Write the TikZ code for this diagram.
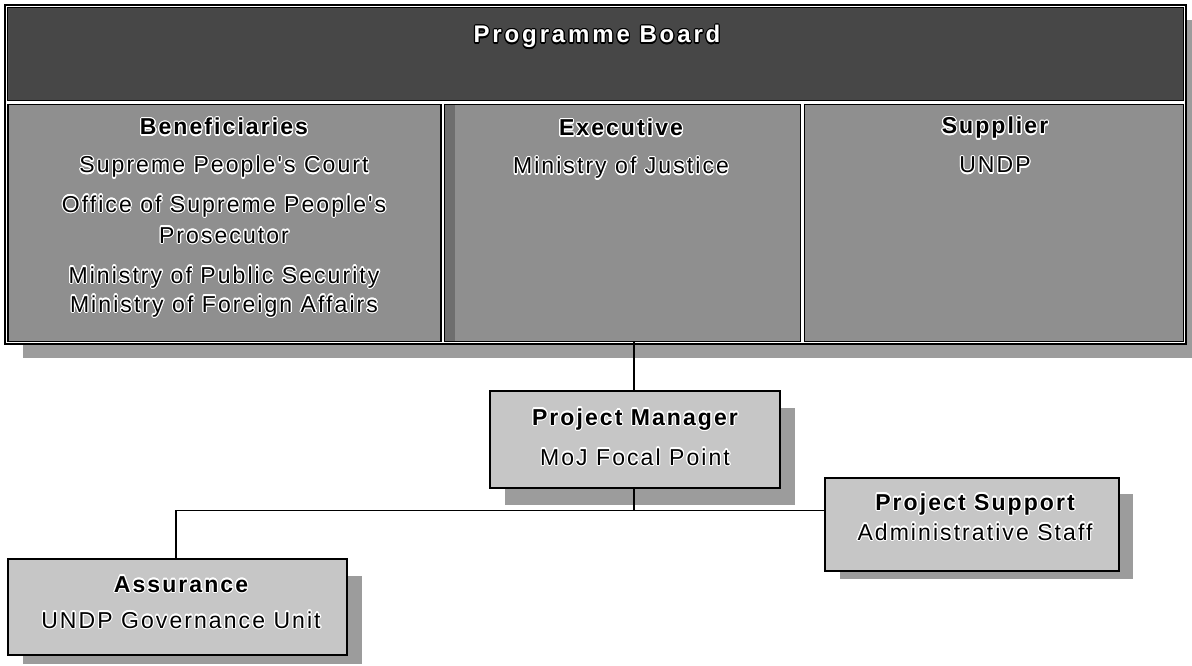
\documentclass[tikz,border=0pt]{standalone}
\usepackage{fontspec}
\setmainfont{Liberation Sans}
\newfontfamily\regf{Liberation Sans}[LetterSpace=9]
\newfontfamily\hdrf{Liberation Sans}[LetterSpace=12]
\usepackage[copies]{contour}
\contourlength{1.1pt}
\usetikzlibrary{calc}
\definecolor{hdrgray}{HTML}{474747}
\definecolor{colgray}{HTML}{8F8F8F}
\definecolor{litegray}{HTML}{C6C6C6}
\definecolor{shadgray}{HTML}{9C9C9C}
\definecolor{stripgray}{HTML}{6E6E6E}
\tikzset{
  boxframe/.style={draw=black, line width=1.1pt, rectangle, inner sep=0pt},
  outerframe/.style={draw=black, line width=1.4pt, rectangle, inner sep=0pt, fill=white},
  conn/.style={draw=black, line width=1.1pt},
  ttl/.style={anchor=base, inner sep=0pt, font=\regf\bfseries\fontsize{23}{27}\selectfont},
  txt/.style={anchor=base, inner sep=0pt, font=\regf\fontsize{23}{27}\selectfont},
  hdrtxt/.style={anchor=base, inner sep=0pt, font=\hdrf\bfseries\fontsize{24}{28}\selectfont},
}
\newcommand{\bk}[1]{\contour{white}{#1}}
\newcommand{\wt}[1]{\contour{black}{\textcolor{white}{#1}}}
\begin{document}
\begin{tikzpicture}[x=1pt,y=-1pt]
\useasboundingbox (0,0) rectangle (1192,666);
% ---- board shadow and frame
\fill[shadgray] (23,20) rectangle (1192,358);
\node[outerframe, minimum width=1181pt, minimum height=339pt] (board) at (595.5,174.5) {};
\node[boxframe, fill=hdrgray, minimum width=1176pt, minimum height=93pt] (hdr) at (595.5,54) {};
\node[boxframe, fill=colgray, minimum width=433pt, minimum height=237pt] (ben) at (224.5,223) {};
\node[boxframe, fill=colgray, minimum width=356pt, minimum height=237pt] (exe) at (622.5,223) {};
\node[boxframe, fill=colgray, minimum width=379pt, minimum height=237pt] (sup) at (994,223) {};
\fill[stripgray] ($(exe.north west)+(1,1)$) rectangle ($(exe.south west)+(11,-1)$);
% ---- texts in board
\node[hdrtxt] (thdr) at (597,43) {\wt{Programme Board}};
\node[ttl] (tben) at (224,135) {\bk{Beneficiaries}};
\node[txt] (b1) at (224,173) {\bk{Supreme People's Court}};
\node[txt] (b2) at (224,212) {\bk{Office of Supreme People's}};
\node[txt] (b3) at (224,243) {\bk{Prosecutor}};
\node[txt] (b4) at (224,283) {\bk{Ministry of Public Security}};
\node[txt] (b5) at (224,312) {\bk{Ministry of Foreign Affairs}};
\node[ttl] (texe) at (621,136) {\bk{Executive}};
\node[txt] (e1) at (621,174) {\bk{Ministry of Justice}};
\node[ttl] (tsup) at (995,134) {\bk{Supplier}};
\node[txt] (s1) at (995,173) {\bk{UNDP}};
% ---- lower boxes: shadows
\fill[shadgray] (505,408) rectangle (795,505);
\fill[shadgray] (840,494) rectangle (1133,579);
\fill[shadgray] (23,576) rectangle (362,664);
% ---- lower boxes
\node[boxframe, fill=litegray, minimum width=290pt, minimum height=97pt] (pm) at (635,439.5) {};
\node[boxframe, fill=litegray, minimum width=294pt, minimum height=93pt] (ps) at (972,524.5) {};
\node[boxframe, fill=litegray, minimum width=339pt, minimum height=96pt] (as) at (177.5,607) {};
\node[ttl] (tpm) at (635,425) {\bk{Project Manager}};
\node[txt] (pm1) at (635,465) {\bk{MoJ Focal Point}};
\node[ttl] (tps) at (975,510) {\bk{Project Support}};
\node[txt] (ps1) at (975,540) {\bk{Administrative Staff}};
\node[ttl] (tas) at (181,592) {\bk{Assurance}};
\node[txt] (as1) at (181,628) {\bk{UNDP Governance Unit}};
% ---- connectors
\coordinate (j) at (634,510.5);
\coordinate (asTop) at (176,559);
\draw[conn] (exe.south -| j) -- (pm.north -| j);
\draw[conn] (pm.south -| j) -- (j);
\draw[conn] (as.north -| asTop) |- (j) -- (j -| ps.west);
\end{tikzpicture}
\end{document}
